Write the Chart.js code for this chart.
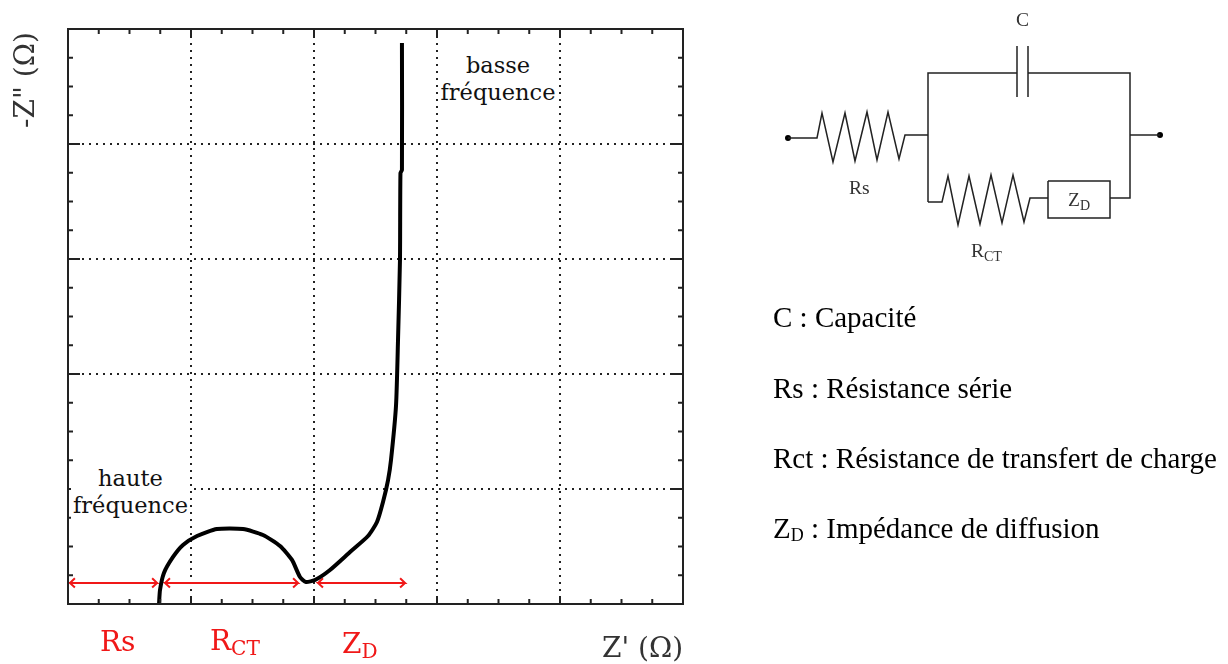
<!DOCTYPE html>
<html>
<head>
<meta charset="utf-8">
<title>Diagramme de Nyquist</title>
<script src="https://cdn.jsdelivr.net/npm/chart.js@4"></script>
<style>
  html, body { margin: 0; padding: 0; background: #fff; }
  #page { position: relative; width: 1228px; height: 664px; overflow: hidden; }
  canvas { position: absolute; }
  #nyquist { left: 0; top: 0; }
  #circuit { left: 760px; top: 0; }
  .t { position: absolute; white-space: nowrap; color: #111; font-family: "DejaVu Serif", serif; line-height: 1; }
  .t sub { font-size: 0.72em; vertical-align: -0.25em; line-height: 0; }
  .red { color: #f01818; font-size: 28px; }
  .note { font-size: 22.5px; text-align: center; background: #fff; line-height: 27px; }
  .axis { font-size: 28px; color: #333; }
  .part { font-family: "Liberation Serif", serif; font-size: 19.5px; color: #333; }
  .legend { font-family: "Liberation Serif", serif; font-size: 29px; color: #000; }
  .legend sub { font-size: 0.62em; vertical-align: -0.15em; }
</style>
</head>
<body>
<div id="page">
  <canvas id="nyquist" width="1228" height="664"></canvas>
  <canvas id="circuit" width="420" height="270"></canvas>

  <div class="t axis" style="left:-35px;top:66px;transform:rotate(-90deg);width:120px;text-align:center">-Z" (Ω)</div>
  <div class="t axis" style="left:602px;top:634px">Z' (Ω)</div>
  <div class="t note" style="left:71px;top:465px;width:119px">haute<br>fréquence</div>
  <div class="t note" style="left:439px;top:52px;width:118px">basse<br>fréquence</div>
  <div class="t red" style="left:100px;top:628px">Rs</div>
  <div class="t red" style="left:210px;top:627px">R<sub>CT</sub></div>
  <div class="t red" style="left:342px;top:630px">Z<sub>D</sub></div>

  <div class="t part" style="left:1016px;top:10px">C</div>
  <div class="t part" style="left:849px;top:178px">Rs</div>
  <div class="t part" style="left:1068px;top:190px">Z<sub>D</sub></div>
  <div class="t part" style="left:971px;top:241px">R<sub>CT</sub></div>

  <div class="t legend" style="left:773px;top:303px">C : Capacité</div>
  <div class="t legend" style="left:773px;top:374px">Rs : Résistance série</div>
  <div class="t legend" style="left:773px;top:444px">Rct : Résistance de transfert de charge</div>
  <div class="t legend" style="left:773px;top:514px">Z<sub>D</sub> : Impédance de diffusion</div>
</div>

<script>
  // ---------- Nyquist curve (grid divisions) ----------
  const curveX = [0.74, 0.748, 0.78, 0.854, 0.935, 1.049, 1.211, 1.423, 1.585, 1.724, 1.821, 1.886, 1.935, 2.008, 2.13, 2.293, 2.439, 2.512, 2.561, 2.602, 2.626, 2.667, 2.683, 2.699, 2.703, 2.715, 2.715];
  const curveY = [0, 0.122, 0.27, 0.409, 0.513, 0.591, 0.652, 0.652, 0.6, 0.504, 0.383, 0.235, 0.191, 0.209, 0.296, 0.452, 0.591, 0.713, 0.887, 1.078, 1.252, 1.73, 2.296, 2.991, 3.748, 3.774, 4.878];

  // Red double arrows: start / end of each span
  const arrowSpans = [[0.016, 0.724], [0.789, 1.87], [2.033, 2.74]];
  const arrowLevel = 0.183;

  // ---------- Circuit wires (x, y in the circuit's own frame) ----------
  const wireRs = [[28, 138], [57, 138], [62, 113], [73, 162], [85, 113], [95, 161], [107, 112], [117, 160], [128, 112], [139, 159], [145, 135], [168, 135]];
  const wireTop = [[168, 202], [168, 73], [257, 73]];
  const wirePlateA = [[257, 46], [257, 97]];
  const wirePlateB = [[268, 46], [268, 97]];
  const wireRight = [[268, 73], [370, 73], [370, 198], [350, 198]];
  const wireOut = [[370, 135], [400, 135]];
  const wireRct = [[168, 202], [182, 202], [188, 176], [198, 225], [209, 176], [220, 224], [231, 175], [242, 223], [253, 175], [264, 222], [270, 198], [288, 198]];
  const boxZd = [[288, 181], [350, 181], [350, 218], [288, 218], [288, 181]];
  const terminals = [[28, 138], [400, 135]];

  const RED = "#f01818";
  const toPoints = (list) => list.map((p) => ({ x: p[0], y: p[1] }));

  function arrowPoints(span) {
    const a = span[0], b = span[1], y = arrowLevel;
    return toPoints([
      [a + 0.04, y + 0.04], [a, y], [a + 0.04, y - 0.04], [a, y],
      [b, y], [b - 0.04, y + 0.04], [b, y], [b - 0.04, y - 0.04],
    ]);
  }

  const lineSet = (data, color, width, tension = 0) => ({
    type: "scatter", data, showLine: true, borderColor: color, borderWidth: width,
    pointRadius: 0, tension, fill: false,
  });

  // Frame and inward tick marks on all four sides
  const frameTicks = {
    id: "frameTicks",
    afterDatasetsDraw(chart) {
      const { ctx, chartArea: a, scales } = chart;
      ctx.save();
      ctx.strokeStyle = "#222";
      ctx.lineWidth = 2;
      const seg = (x1, y1, x2, y2) => { ctx.beginPath(); ctx.moveTo(x1, y1); ctx.lineTo(x2, y2); ctx.stroke(); };
      scales.x.ticks.forEach((t) => {
        const x = scales.x.getPixelForValue(t.value);
        const len = Number.isInteger(t.value) ? 8 : 5;
        seg(x, a.top, x, a.top + len);
        seg(x, a.bottom, x, a.bottom - len);
      });
      scales.y.ticks.forEach((t) => {
        const y = scales.y.getPixelForValue(t.value);
        const len = Number.isInteger(t.value) ? 12 : 5;
        seg(a.left, y, a.left + len, y);
        seg(a.right, y, a.right - len, y);
      });
      ctx.strokeRect(a.left, a.top, a.right - a.left, a.bottom - a.top);
      ctx.restore();
    },
  };

  const axisOptions = (max) => ({
    min: 0,
    max,
    ticks: { display: false, stepSize: 0.25, includeBounds: true },
    border: { display: false, dash: [2, 5] },
    grid: {
      drawTicks: false,
      lineWidth: 2,
      color: (c) => {
        const v = c.tick ? c.tick.value : 0;
        return Number.isInteger(v) && v > 0 && v < max ? "#222" : "rgba(0,0,0,0)";
      },
    },
  });

  new Chart(document.getElementById("nyquist"), {
    type: "scatter",
    data: {
      datasets: [
        lineSet(curveX.map((x, i) => ({ x, y: curveY[i] })), "#000", 4, 0.2),
        ...arrowSpans.map((s) => lineSet(arrowPoints(s), RED, 2)),
      ],
    },
    options: {
      responsive: false,
      animation: false,
      layout: { padding: { left: 68, right: 545, top: 29, bottom: 60 } },
      scales: { x: axisOptions(5), y: axisOptions(5) },
      plugins: { legend: { display: false }, tooltip: { enabled: false } },
    },
    plugins: [frameTicks],
  });

  new Chart(document.getElementById("circuit"), {
    type: "scatter",
    data: {
      datasets: [
        ...[wireRs, wireTop, wirePlateA, wirePlateB, wireRight, wireOut, wireRct, boxZd].map((w) => lineSet(toPoints(w), "#222", 1.5)),
        { data: toPoints(terminals), pointRadius: 3, backgroundColor: "#000", borderWidth: 0 },
      ],
    },
    options: {
      responsive: false,
      animation: false,
      layout: { autoPadding: false },
      scales: {
        x: { display: false, min: 0, max: 420 },
        y: { display: false, min: 0, max: 270, reverse: true },
      },
      plugins: { legend: { display: false }, tooltip: { enabled: false } },
    },
  });
</script>
</body>
</html>
